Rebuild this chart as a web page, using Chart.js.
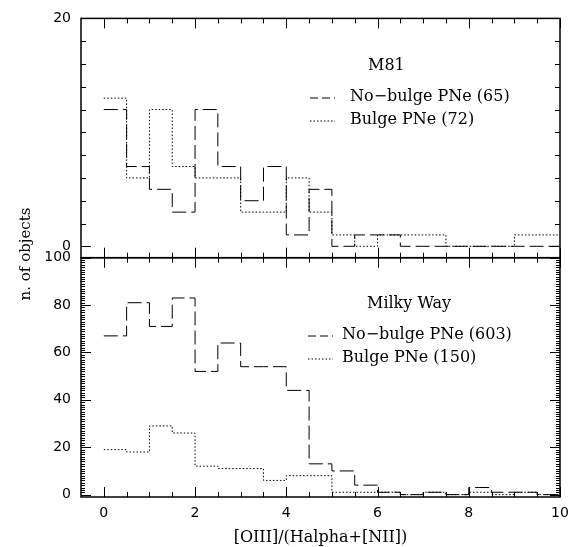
<!DOCTYPE html>
<html lang="en">
<head>
<meta charset="UTF-8">
<title>[OIII]/(Halpha+[NII]) histograms</title>
<script src="https://cdn.jsdelivr.net/npm/chart.js"></script>
<style>
  html, body { margin: 0; padding: 0; background: #fff; }
  #wrap { width: 585px; height: 547px; position: relative; }
</style>
</head>
<body>
<div id="wrap"><canvas id="histChart"></canvas></div>
<script>
// bin edges of [OIII]/(Halpha+[NII]), 0.5 wide
const binEdges = [0, 0.5, 1, 1.5, 2, 2.5, 3, 3.5, 4, 4.5, 5, 5.5, 6, 6.5, 7, 7.5, 8, 8.5, 9, 9.5, 10];

// M81 (upper panel), counts per bin
const m81NoBulge = [12, 7, 5, 3, 12, 7, 4, 7, 1, 5, 0, 1, 1, 0, 0, 0, 0, 0, 0, 0];
const m81Bulge   = [13, 6, 12, 7, 6, 6, 3, 3, 6, 3, 1, 0, 1, 1, 1, 0, 0, 0, 1, 1];

// Milky Way (lower panel), counts per bin
const mwNoBulge = [67, 81, 71, 83, 52, 64, 54, 54, 44, 13, 10, 4, 1, 0, 1, 0, 3, 1, 1, 0];
const mwBulge   = [19, 18, 29, 26, 12, 11, 11, 6, 8, 8, 1, 1, 1, 0, 1, 0, 1, 0, 1, 0];

// tick labels
const xTicks = [0, 2, 4, 6, 8, 10];
const yTopTicks = [0, 20];
const yBotTicks = [0, 20, 40, 60, 80, 100];

// legend texts
const topLabels = ['M81', 'No\u2212bulge PNe (65)', 'Bulge PNe (72)'];
const botLabels = ['Milky Way', 'No\u2212bulge PNe (603)', 'Bulge PNe (150)'];

const serif = '"DejaVu Serif", serif';
const sans = '"DejaVu Sans", sans-serif';
const DASH = [14, 5];
const DOT = [1.5, 2];

// step histogram points: one per left edge + closing point at the last edge
function steps(vals) {
  const pts = vals.map((v, i) => ({ x: binEdges[i], y: v }));
  pts.push({ x: binEdges[vals.length], y: vals[vals.length - 1] });
  return pts;
}

function histSet(vals, axis, dash) {
  return {
    data: steps(vals),
    yAxisID: axis,
    stepped: 'before',   // horizontal at this bin's value, then the jump
    borderColor: '#000',
    borderWidth: 1,
    borderDash: dash,
    pointRadius: 0,
    fill: false,
    tension: 0
  };
}

// frame, inward ticks, legends and the y title
const framePlugin = {
  id: 'frame',
  afterDraw(chart) {
    const { ctx, chartArea: a, scales } = chart;
    const x = scales.x;
    ctx.save();
    ctx.strokeStyle = '#000';
    ctx.setLineDash([]);

    ['yTop', 'yBot'].forEach(id => {
      const y = scales[id];
      const top = y.top, bot = y.bottom;
      ctx.lineWidth = 1;
      ctx.beginPath();
      for (let i = 0; i <= 20; i++) {
        const v = i * 0.5;
        const px = Math.round(x.getPixelForValue(v)) + 0.5;
        const len = (v % 2 === 0) ? 10 : 5;
        ctx.moveTo(px, bot); ctx.lineTo(px, bot - len);
        ctx.moveTo(px, top); ctx.lineTo(px, top + len);
      }
      const step = id === 'yTop' ? 2 : 1;
      const minor = id === 'yTop' ? 5 : 4;
      for (let v = 0; v <= y.max; v += step) {
        const py = Math.round(y.getPixelForValue(v)) + 0.5;
        const len = (v % 20 === 0) ? 10 : minor;
        ctx.moveTo(a.left, py); ctx.lineTo(a.left + len, py);
        ctx.moveTo(a.right, py); ctx.lineTo(a.right - len, py);
      }
      ctx.stroke();
      ctx.lineWidth = 1.5;
      ctx.strokeRect(a.left, top, a.right - a.left, bot - top);
    });

    // legends
    ctx.fillStyle = '#000';
    ctx.font = '16px ' + serif;
    ctx.textBaseline = 'middle';
    ctx.textAlign = 'left';
    const legend = (labels, tx, ty, sx0, sx1, tx2) => {
      ctx.fillText(labels[0], tx, ty);
      ctx.lineWidth = 1;
      ctx.setLineDash([8, 4]);
      ctx.beginPath(); ctx.moveTo(sx0, ty + 32); ctx.lineTo(sx1, ty + 32); ctx.stroke();
      ctx.setLineDash(DOT);
      ctx.beginPath(); ctx.moveTo(sx0, ty + 55); ctx.lineTo(sx1, ty + 55); ctx.stroke();
      ctx.setLineDash([]);
      ctx.fillText(labels[1], tx2, ty + 31);
      ctx.fillText(labels[2], tx2, ty + 54);
    };
    legend(topLabels, 368, 66, 310, 335, 350);
    legend(botLabels, 367, 304, 308, 333, 342);

    // y title
    ctx.translate(26, 254);
    ctx.rotate(-Math.PI / 2);
    ctx.textAlign = 'center';
    ctx.font = '15px ' + serif;
    ctx.fillText('n. of objects', 0, 0);
    ctx.restore();
  }
};

const tickFont = { family: sans, size: 14 };

new Chart(document.getElementById('histChart'), {
  type: 'line',
  data: {
    datasets: [
      histSet(m81NoBulge, 'yTop', DASH),
      histSet(m81Bulge, 'yTop', DOT),
      histSet(mwNoBulge, 'yBot', DASH),
      histSet(mwBulge, 'yBot', DOT)
    ]
  },
  options: {
    responsive: true,
    maintainAspectRatio: false,
    animation: false,
    layout: { padding: { top: 16, right: 25, left: 0, bottom: 0 } },
    plugins: { legend: { display: false }, tooltip: { enabled: false } },
    scales: {
      x: {
        type: 'linear',
        min: -0.5,
        max: 10,
        grid: { display: false, drawTicks: false },
        border: { display: false },
        afterBuildTicks: s => { s.ticks = xTicks.map(v => ({ value: v })); },
        afterFit: s => { s.height = 50; },
        ticks: { color: '#000', font: tickFont, padding: 8, maxRotation: 0, autoSkip: false },
        title: {
          display: true,
          text: '[OIII]/(Halpha+[NII])',
          color: '#000',
          font: { family: serif, size: 16 },
          padding: { top: 0, bottom: 0 }
        }
      },
      yTop: {
        type: 'linear',
        position: 'left',
        stack: 'panels',
        stackWeight: 1,
        weight: 2,
        min: -1,
        max: 20,
        grid: { display: false, drawTicks: false },
        border: { display: false },
        afterBuildTicks: s => { s.ticks = yTopTicks.map(v => ({ value: v })); },
        afterFit: s => { s.width = 81; },
        ticks: { color: '#000', font: tickFont, padding: 10, autoSkip: false }
      },
      yBot: {
        type: 'linear',
        position: 'left',
        stack: 'panels',
        stackWeight: 1,
        weight: 1,
        min: -1,
        max: 100,
        grid: { display: false, drawTicks: false },
        border: { display: false },
        afterBuildTicks: s => { s.ticks = yBotTicks.map(v => ({ value: v })); },
        afterFit: s => { s.width = 81; },
        ticks: { color: '#000', font: tickFont, padding: 10, autoSkip: false }
      }
    }
  },
  plugins: [framePlugin]
});
</script>
</body>
</html>
